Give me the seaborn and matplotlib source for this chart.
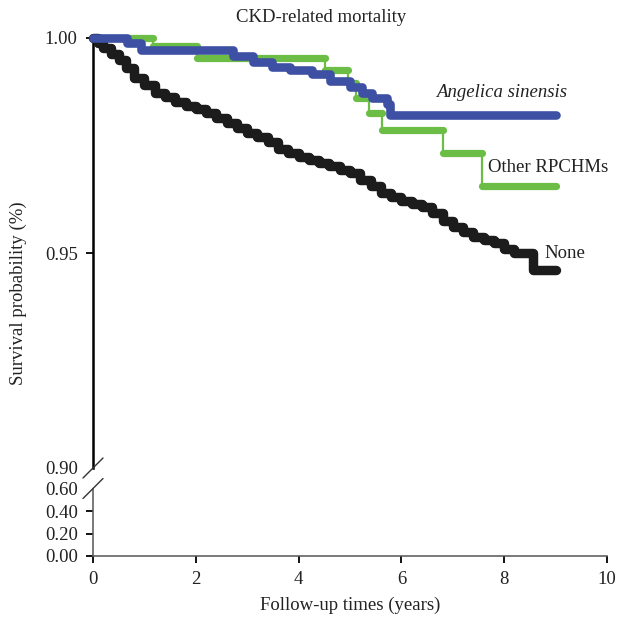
import matplotlib
matplotlib.use("Agg")
import matplotlib.pyplot as plt
import seaborn as sns
import pandas as pd

# Kaplan-Meier curves (time in years, survival)
none_t = [0, 0.1, 0.2, 0.35, 0.5, 0.65, 0.8, 1.0, 1.2, 1.4, 1.6, 1.8, 2.0, 2.2,
          2.4, 2.6, 2.8, 3.0, 3.2, 3.4, 3.6, 3.8, 4.0, 4.2, 4.4, 4.6, 4.8, 5.0,
          5.2, 5.4, 5.6, 5.8, 6.0, 6.2, 6.4, 6.6, 6.8, 7.0, 7.2, 7.4, 7.6, 7.8,
          8.0, 8.2, 8.56, 9.0]
none_s = [1.000, 0.9988, 0.9977, 0.9962, 0.9949, 0.9930, 0.9908, 0.9890, 0.9873,
          0.9862, 0.9851, 0.9841, 0.9835, 0.9826, 0.9815, 0.9803, 0.9791, 0.9780,
          0.9770, 0.9759, 0.9741, 0.9732, 0.9724, 0.9716, 0.9710, 0.9703, 0.9693,
          0.9686, 0.9670, 0.9655, 0.9640, 0.9630, 0.9620, 0.9615, 0.9607, 0.9593,
          0.9575, 0.9560, 0.9548, 0.9537, 0.9530, 0.9524, 0.9510, 0.9500, 0.9460,
          0.9460]

ang_t = [0, 0.66, 0.93, 2.72, 3.11, 3.48, 3.83, 4.26, 4.61, 5.00, 5.23, 5.43,
         5.72, 5.78, 9.0]
ang_s = [1.000, 0.9988, 0.9972, 0.9958, 0.9944, 0.9933, 0.9926, 0.9916, 0.9900,
         0.9886, 0.9872, 0.9860, 0.9846, 0.9821, 0.9821]

oth_t = [0, 1.17, 2.02, 4.51, 4.96, 5.12, 5.37, 5.62, 6.81, 7.57, 9.0]
oth_s = [1.000, 0.9981, 0.9953, 0.9926, 0.9895, 0.9860, 0.9826, 0.9786, 0.9733,
         0.9656, 0.9656]

groups = ["None", "Other RPCHMs", "Angelica sinensis"]
colors = {"None": "#1c1c1c", "Other RPCHMs": "#6bbd45", "Angelica sinensis": "#3d50a3"}
widths = {"None": 6.8, "Other RPCHMs": 5.2, "Angelica sinensis": 6.2}
curves = {"None": (none_t, none_s), "Other RPCHMs": (oth_t, oth_s),
          "Angelica sinensis": (ang_t, ang_s)}
# thin risers only where the steps are large
thin_risers = {"None": False, "Other RPCHMs": True, "Angelica sinensis": False}

sns.set_style("ticks")
plt.rcParams['font.family'] = ['Liberation Serif', 'DejaVu Serif']
plt.rcParams['font.size'] = 13.5

fig = plt.figure(figsize=(6.27, 6.24), dpi=100)
L, W = 93 / 627, 514 / 627
ax = fig.add_axes([L, 156 / 624, W, 430 / 624])
ax2 = fig.add_axes([L, 68 / 624, W, 67.5 / 624])

for g in groups:
    t, s = curves[g]
    df = pd.DataFrame({"t": t, "s": s})
    if thin_risers[g]:
        sns.lineplot(data=df, x="t", y="s", ax=ax, drawstyle="steps-post",
                     color=colors[g], lw=1.6, estimator=None, sort=False,
                     clip_on=False)
        ax.hlines(s[:-1], t[:-1], t[1:], colors=colors[g], lw=widths[g],
                  capstyle="round", clip_on=False, zorder=3)
    else:
        sns.lineplot(data=df, x="t", y="s", ax=ax, drawstyle="steps-post",
                     color=colors[g], lw=widths[g], estimator=None, sort=False,
                     clip_on=False, solid_capstyle="round",
                     solid_joinstyle="round", zorder=4)

ax.set_xlim(0, 10)
ax.set_ylim(0.90, 1.00)
ax.set_yticks([0.90, 0.95, 1.00])
ax.set_yticklabels(["0.90", "0.95", "1.00"])
ax.get_xaxis().set_visible(False)
for sp in ["top", "right", "bottom"]:
    ax.spines[sp].set_visible(False)
ax.spines["left"].set_linewidth(1.8)
ax.spines["left"].set_color("black")
ax.tick_params(axis="y", length=5, width=1.3, pad=6, colors="black",
               labelcolor="#222222")
ax.yaxis.get_major_ticks()[0].tick1line.set_visible(False)
ax.set_xlabel("")
ax.set_ylabel("")

ax.text(6.67, 0.9874, "Angelica sinensis", style="italic", va="center",
        ha="left", color="#222222")
ax.text(7.68, 0.9700, "Other RPCHMs", va="center", ha="left", color="#222222")
ax.text(8.79, 0.9500, "None", va="center", ha="left", color="#222222")

ax2.set_xlim(0, 10)
ax2.set_ylim(0, 0.6)
ax2.set_xticks([0, 2, 4, 6, 8, 10])
ax2.set_yticks([0, 0.2, 0.4, 0.6])
ax2.set_yticklabels(["0.00", "0.20", "0.40", "0.60"])
for sp in ["top", "right"]:
    ax2.spines[sp].set_visible(False)
for sp in ["left", "bottom"]:
    ax2.spines[sp].set_color("#555555")
    ax2.spines[sp].set_linewidth(1.1)
ax2.tick_params(axis="both", length=5, width=1.3, colors="black",
                labelcolor="#222222")
ax2.tick_params(axis="y", pad=6)
ax2.tick_params(axis="x", pad=6)
ax2.yaxis.get_major_ticks()[-1].tick1line.set_visible(False)
ax2.set_xlabel("Follow-up times (years)", labelpad=6, color="#222222")

# axis break marks
dx, dy = 10 / 627, 10 / 624
for yc in [156 / 624, 135.5 / 624]:
    fig.add_artist(plt.Line2D([L - dx, L + dx], [yc - dy, yc + dy],
                              transform=fig.transFigure, color="#333333", lw=1.0))

fig.text(321 / 627, 1 - 18 / 624, "CKD-related mortality", ha="center",
         va="center", color="#222222")
fig.text(18 / 627, 1 - 293 / 624, "Survival probability (%)", rotation=90,
         ha="center", va="center", color="#222222")

fig.savefig("out.png", dpi=100)
